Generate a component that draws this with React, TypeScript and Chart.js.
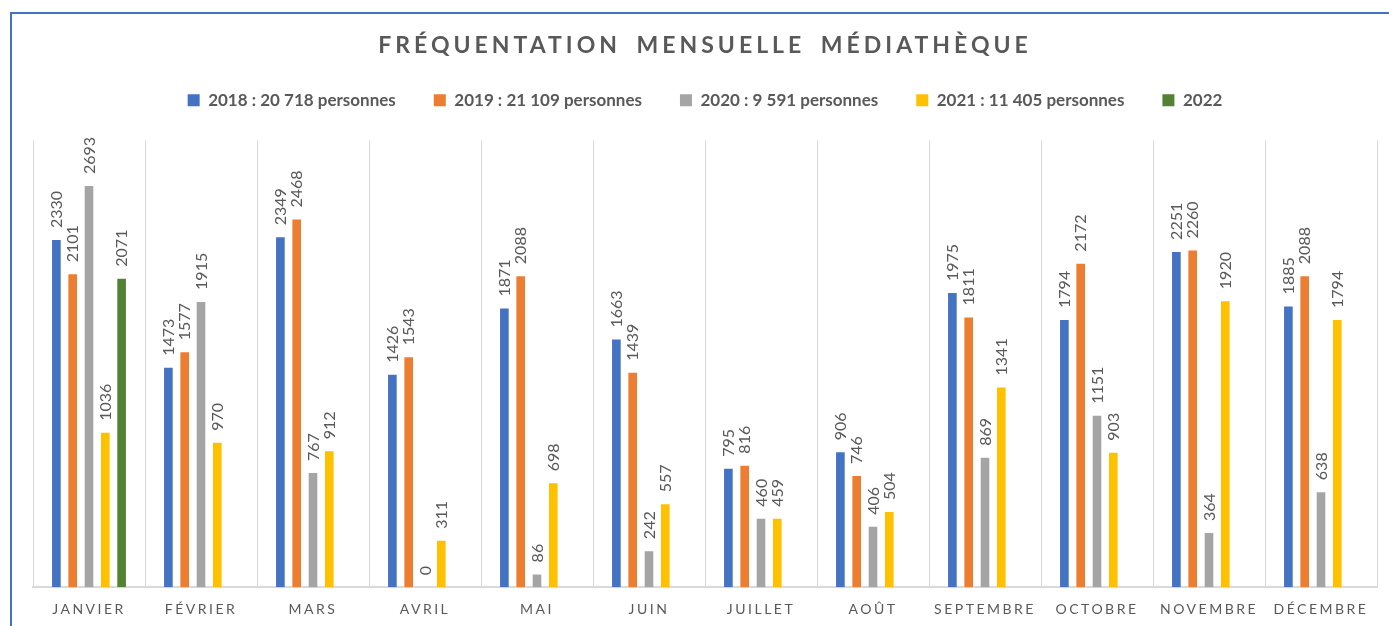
import React, { useEffect, useRef } from 'react';
import { Chart, registerables } from 'chart.js';

Chart.register(...registerables);

const titleText = 'FRÉQUENTATION MENSUELLE MÉDIATHÈQUE';

const months = [
  'JANVIER', 'FÉVRIER', 'MARS', 'AVRIL', 'MAI', 'JUIN',
  'JUILLET', 'AOÛT', 'SEPTEMBRE', 'OCTOBRE', 'NOVEMBRE', 'DÉCEMBRE',
];

const seriesNames = [
  '2018 : 20 718 personnes',
  '2019 : 21 109 personnes',
  '2020 : 9 591 personnes',
  '2021 : 11 405 personnes',
  '2022',
];

const values2018 = [2330, 1473, 2349, 1426, 1871, 1663, 795, 906, 1975, 1794, 2251, 1885];
const values2019 = [2101, 1577, 2468, 1543, 2088, 1439, 816, 746, 1811, 2172, 2260, 2088];
const values2020 = [2693, 1915, 767, 0, 86, 242, 460, 406, 869, 1151, 364, 638];
const values2021 = [1036, 970, 912, 311, 698, 557, 459, 504, 1341, 903, 1920, 1794];
const values2022 = [2071, null, null, null, null, null, null, null, null, null, null, null];

const seriesValues = [values2018, values2019, values2020, values2021, values2022];
const seriesColors = ['#4472C4', '#ED7D31', '#A5A5A5', '#FFC000', '#548235'];

const yMax = 3000;
const textColor = '#595959';
const labelColor = '#595959';
const gridColor = '#D9D9D9';
const fontFamily = 'Lato';

const layoutTweaks = {
  id: 'layoutTweaks',
  beforeInit(chart: any) {
    const legend = chart.legend;
    if (legend) {
      const fit = legend.fit;
      legend.fit = function (...args: any[]) {
        fit.apply(this, args);
        this.height += 21.5;
      };
      const draw = legend.draw;
      legend.draw = function (...args: any[]) {
        const c = this.ctx;
        c.save();
        c.letterSpacing = '0px';
        c.wordSpacing = '0px';
        draw.apply(this, args);
        c.restore();
      };
    }
    const title = chart.titleBlock;
    if (title) {
      const draw = title.draw;
      title.draw = function (...args: any[]) {
        const c = this.ctx;
        c.save();
        c.letterSpacing = '4px';
        c.wordSpacing = '6px';
        draw.apply(this, args);
        c.restore();
      };
    }
  },
  beforeDraw(chart: any) {
    chart.ctx.letterSpacing = '2.5px';
  },
  beforeDatasetsDraw(chart: any) {
    chart.ctx.letterSpacing = '0px';
    chart.ctx.wordSpacing = '0px';
  },
};

const barLabels = {
  id: 'barLabels',
  afterDatasetsDraw(chart: any) {
    const ctx = chart.ctx;
    ctx.save();
    ctx.letterSpacing = '0px';
    ctx.font = `16px ${fontFamily}`;
    ctx.fillStyle = labelColor;
    ctx.textAlign = 'left';
    ctx.textBaseline = 'alphabetic';
    chart.data.datasets.forEach((ds: any, i: number) => {
      const meta = chart.getDatasetMeta(i);
      meta.data.forEach((el: any, j: number) => {
        const v = ds.data[j];
        if (v === null || v === undefined) return;
        ctx.save();
        ctx.translate(el.x, el.y - 12);
        ctx.rotate(-Math.PI / 2);
        ctx.fillText(String(v), 0, 5.8);
        ctx.restore();
      });
    });
    ctx.restore();
  },
};

export default function App() {
  const ref = useRef<HTMLCanvasElement | null>(null);

  useEffect(() => {
    let chart: Chart | null = null;
    let cancelled = false;
    const make = () => {
      if (cancelled || !ref.current) return;
      chart = new Chart(ref.current, {
        type: 'bar',
        data: {
          labels: months,
          datasets: seriesNames.map((name, i) => ({
            label: name,
            data: seriesValues[i] as any,
            backgroundColor: seriesColors[i],
            borderWidth: 0,
            categoryPercentage: 0.728,
            barPercentage: 0.53,
          })),
        },
        options: {
          animation: false,
          responsive: true,
          maintainAspectRatio: false,
          layout: { padding: { left: 33, right: 12, top: 0, bottom: -6 } },
          plugins: {
            title: {
              display: true,
              text: titleText,
              color: textColor,
              font: { family: fontFamily, size: 23, weight: 'bold', lineHeight: 0.6 },
              padding: { top: 39.1, bottom: 0.9 },
            },
            legend: {
              display: true,
              position: 'top',
              labels: {
                color: textColor,
                font: { family: fontFamily, size: 17, weight: 'bold' },
                boxWidth: 12,
                boxHeight: 12,
                padding: 38,
              },
            },
            tooltip: { enabled: false },
          },
          scales: {
            x: {
              grid: { display: true, color: gridColor, lineWidth: 1, drawTicks: false, offset: true },
              border: { display: true, color: gridColor, width: 2 },
              ticks: {
                color: textColor,
                font: { family: fontFamily, size: 14 },
                padding: 14,
                maxRotation: 0,
                autoSkip: false,
              },
            },
            y: { display: false, min: 0, max: yMax },
          },
        } as any,
        plugins: [layoutTweaks, barLabels],
      });
    };
    const fonts = (document as any).fonts;
    if (fonts && fonts.load) {
      Promise.all([
        fonts.load(`bold 22px ${fontFamily}`),
        fonts.load(`16px ${fontFamily}`),
      ]).then(make, make);
    } else {
      make();
    }
    return () => {
      cancelled = true;
      if (chart) chart.destroy();
    };
  }, []);

  return (
    <div style={{ position: 'fixed', left: 0, top: 0, width: 1389, height: 626, overflow: 'hidden', background: '#ffffff' }}>
      <div
        style={{
          position: 'absolute', left: 10, top: 12, width: 1400, height: 700,
          border: '2px solid #4472C4', boxSizing: 'border-box',
        }}
      />
      <div style={{ position: 'absolute', left: 0, top: 0, width: 1389, height: 626 }}>
        <canvas ref={ref} />
      </div>
    </div>
  );
}
